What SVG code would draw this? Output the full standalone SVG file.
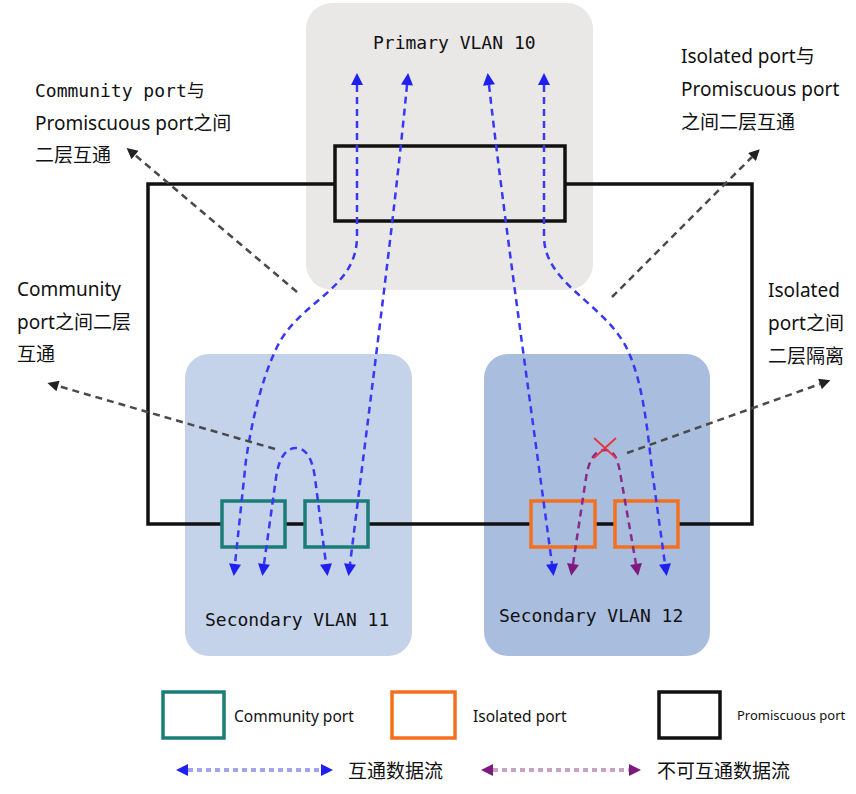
<svg xmlns="http://www.w3.org/2000/svg" width="856" height="794" viewBox="0 0 856 794">
<defs>
<style>
.mono{font-family:"DejaVu Sans Mono","Liberation Mono","Noto Sans CJK SC",monospace;font-size:18px;fill:#111}
.lab{font-family:"Noto Sans","Noto Sans CJK SC",sans-serif;font-size:19px;fill:#111}
.leg{font-family:"Noto Sans","Noto Sans CJK SC",sans-serif;font-size:15.5px;fill:#111}
.flow{fill:none;stroke:#3838f5;stroke-width:2.5;stroke-dasharray:7 5}
.bad{fill:none;stroke:#8a2a8a;stroke-width:2.5;stroke-dasharray:7 5}
.note{fill:none;stroke:#4a4a4a;stroke-width:2.5;stroke-dasharray:7 5}
.comm{stroke:#1b7d77;stroke-width:3.5}
.iso{stroke:#f5701e;stroke-width:3.5}
.prom{stroke:#111;stroke-width:3.5}
</style>
<marker id="ab" viewBox="0 0 10 10" refX="0" refY="5" markerUnits="userSpaceOnUse" markerWidth="13" markerHeight="12" orient="auto-start-reverse"><path d="M0,0 L10,5 L0,10 z" fill="#1f1ff0"/></marker>
<marker id="ap" viewBox="0 0 10 10" refX="0" refY="5" markerUnits="userSpaceOnUse" markerWidth="13" markerHeight="12" orient="auto-start-reverse"><path d="M0,0 L10,5 L0,10 z" fill="#7e1a7e"/></marker>
<marker id="ag" viewBox="0 0 10 10" refX="0" refY="5" markerUnits="userSpaceOnUse" markerWidth="13" markerHeight="11" orient="auto"><path d="M0,0 L10,5 L0,10 z" fill="#222"/></marker>
</defs>
<rect width="856" height="794" fill="#ffffff"/>

<g id="primary-vlan-10">
<rect x="306" y="3" width="287" height="287" rx="26" fill="#e9e8e6"/>
<text class="mono" x="373" y="49">Primary VLAN 10</text>
</g>
<g id="secondary-vlan-11">
<rect x="185" y="354" width="227" height="302" rx="24" fill="#c4d2ea"/>
<text class="mono" x="205" y="626">Secondary VLAN 11</text>
</g>
<g id="secondary-vlan-12">
<rect x="484" y="354" width="226" height="302" rx="24" fill="#a9bddf"/>
<text class="mono" x="499" y="622">Secondary VLAN 12</text>
</g>

<g id="trunk-line">
<path d="M335,184 H148 V524 H752 V184 H565" fill="none" stroke="#111" stroke-width="3.5"/>
</g>

<g id="promiscuous-port">
<rect class="prom" x="335" y="146" width="230" height="75" fill="#e9e8e6"/>
</g>
<g id="community-port-1"><rect class="comm" x="222" y="501" width="63" height="46" fill="#c4d2ea"/></g>
<g id="community-port-2"><rect class="comm" x="305" y="501" width="63" height="46" fill="#c4d2ea"/></g>
<g id="isolated-port-1"><rect class="iso" x="531" y="501" width="64" height="46" fill="#a9bddf"/></g>
<g id="isolated-port-2"><rect class="iso" x="615" y="501" width="63" height="46" fill="#a9bddf"/></g>

<g id="connectors">
<path class="flow" d="M357,85 L357,236 C357,290 300,300 277,347 C262,378 252,420 246,460 L235,564" marker-start="url(#ab)" marker-end="url(#ab)"/>
<path class="flow" d="M407,85 C396,200 378,340 350,564" marker-start="url(#ab)" marker-end="url(#ab)"/>
<path class="flow" d="M264,564 L276,478 C279,456 287,448 296,448 C305,448 312,456 315,478 L326,564" marker-start="url(#ab)" marker-end="url(#ab)"/>
<path class="flow" d="M489,85 C503,210 530,400 552,564" marker-start="url(#ab)" marker-end="url(#ab)"/>
<path class="flow" d="M544,85 L544,236 C544,282 598,300 624,343 C642,375 647,425 652,470 L665,564" marker-start="url(#ab)" marker-end="url(#ab)"/>
<path class="bad" d="M573,564 L586,478 C589,458 596,450 605,450 C614,450 618,458 621,478 L636,564" marker-start="url(#ap)" marker-end="url(#ap)"/>
<path d="M594,438 L616,458 M594,458 L616,438" stroke="#e8343c" stroke-width="1.8" fill="none"/>
<path class="note" d="M297,292 L135,155" marker-end="url(#ag)"/>
<path class="note" d="M275,449 L58,386" marker-end="url(#ag)"/>
<path class="note" d="M612,297 L752,157" marker-end="url(#ag)"/>
<path class="note" d="M627,453 L820,384" marker-end="url(#ag)"/>
</g>

<g id="label-community-promiscuous">
<text class="mono" x="35" y="97">Community port与</text>
<text class="lab" x="35" y="130">Promiscuous port之间</text>
<text class="lab" x="35" y="162">二层互通</text>
</g>
<g id="label-community-community">
<text class="lab" x="17" y="296">Community</text>
<text class="lab" x="17" y="329">port之间二层</text>
<text class="lab" x="17" y="361">互通</text>
</g>
<g id="label-isolated-promiscuous">
<text class="lab" x="681" y="63">Isolated port与</text>
<text class="lab" x="681" y="96">Promiscuous port</text>
<text class="lab" x="681" y="129">之间二层互通</text>
</g>
<g id="label-isolated-isolated">
<text class="lab" x="768" y="297">Isolated</text>
<text class="lab" x="768" y="330">port之间</text>
<text class="lab" x="768" y="363">二层隔离</text>
</g>

<g id="legend">
<rect class="comm" x="163" y="692" width="61" height="46" fill="none"/>
<text class="leg" x="234" y="722">Community port</text>
<rect class="iso" x="392" y="692" width="63" height="46" fill="none"/>
<text class="leg" x="473" y="722">Isolated port</text>
<rect class="prom" x="659" y="692" width="61" height="46" fill="none"/>
<text class="leg" x="737" y="720" style="font-size:13px">Promiscuous port</text>
<line x1="188" y1="770" x2="322" y2="770" stroke="#a4a4ee" stroke-width="4" stroke-dasharray="5 4"/>
<path d="M176,770 L188,764 L188,776 z M333,770 L321,764 L321,776 z" fill="#1f1ff0"/>
<text class="lab" x="348" y="778">互通数据流</text>
<line x1="493" y1="770" x2="629" y2="770" stroke="#c7a2c7" stroke-width="4" stroke-dasharray="5 4"/>
<path d="M481,770 L493,764 L493,776 z M641,770 L629,764 L629,776 z" fill="#7e1a7e"/>
<text class="lab" x="657" y="778">不可互通数据流</text>
</g>
</svg>
